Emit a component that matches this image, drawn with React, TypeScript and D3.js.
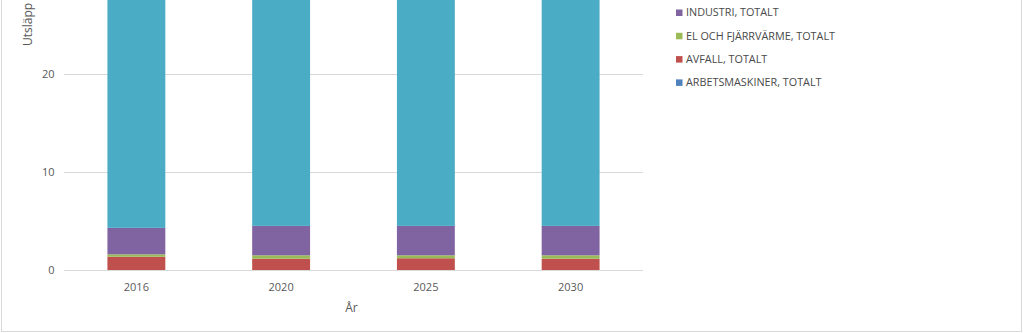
import React from "react";
import * as d3 from "d3";

const years = ["2016", "2020", "2025", "2030"];
const arbetsmaskiner = [0, 0, 0, 0];
const avfall = [1.35, 1.15, 1.2, 1.15];
const elFjarrvarme = [0.25, 0.35, 0.3, 0.35];
const industri = [2.7, 3.0, 3.0, 3.0];
const transporter = [28.0, 27.5, 27.0, 26.5];
const yTicks = [0, 10, 20];

const seriesNames = [
  "ARBETSMASKINER, TOTALT",
  "AVFALL, TOTALT",
  "EL OCH FJÄRRVÄRME, TOTALT",
  "INDUSTRI, TOTALT",
  "TRANSPORTER, TOTALT",
];
const seriesColors = ["#4F81BD", "#C0504D", "#9BBB59", "#8064A2", "#4BACC6"];

export default function App() {
  const W = 1023;
  const H = 333;
  const plotLeft = 64;
  const plotRight = 643;
  const y0 = 270;
  const pxPerUnit = 9.8;

  const data = years.map((yr, i) => ({
    year: yr,
    s0: arbetsmaskiner[i],
    s1: avfall[i],
    s2: elFjarrvarme[i],
    s3: industri[i],
    s4: transporter[i],
  }));
  const keys = ["s0", "s1", "s2", "s3", "s4"];
  const stacked = d3.stack<any>().keys(keys)(data);

  const x = d3.scaleBand<string>().domain(years).range([plotLeft, plotRight]).paddingInner(0.6).paddingOuter(0.3);
  const y = d3.scaleLinear().domain([0, 40]).range([y0, y0 - 40 * pxPerUnit]);

  const font = "'Open Sans', 'Liberation Sans', Arial, sans-serif";
  const textColor = "#595959";

  const legendX = 676;
  const legendY0 = 12.5;
  const legendStep = 23.3;
  // legend order reversed (top of stack first); the top entry lies above the visible area
  const legendOrder = [4, 3, 2, 1, 0];

  return (
    <svg
      width={W}
      height={H}
      style={{ position: "absolute", left: 0, top: 0, display: "block", background: "#fff" }}
    >
      <rect x={1.5} y={-20} width={1020} height={351.5} fill="#fff" stroke="#d9d9d9" strokeWidth={1} />
      {yTicks.map((t) => (
        <g key={t}>
          <line x1={plotLeft} x2={plotRight} y1={Math.round(y(t)) + 0.5} y2={Math.round(y(t)) + 0.5} stroke="#d9d9d9" strokeWidth={1} />
          <text x={54.5} y={y(t)} dy="0.35em" textAnchor="end" fontFamily={font} fontSize={11} fill={textColor}>
            {t}
          </text>
        </g>
      ))}
      {stacked.map((layer, li) => (
        <g key={li} fill={seriesColors[li]}>
          {layer.map((d, i) => (
            <rect
              key={i}
              x={x(years[i])}
              width={x.bandwidth()}
              y={y(d[1])}
              height={Math.max(0, y(d[0]) - y(d[1]))}
            />
          ))}
        </g>
      ))}
      {years.map((yr) => (
        <text key={yr} x={(x(yr) as number) + x.bandwidth() / 2} y={290.5} textAnchor="middle" fontFamily={font} fontSize={11} fill={textColor}>
          {yr}
        </text>
      ))}
      <text x={(plotLeft + plotRight) / 2 - 2} y={312} textAnchor="middle" fontFamily={font} fontSize={12} fill={textColor}>
        År
      </text>
      <text
        transform={`translate(${32},${46}) rotate(-90)`}
        textAnchor="start"
        fontFamily={font}
        fontSize={12}
        fill={textColor}
      >
        Utsläpp
      </text>
      {legendOrder.map((si, k) => {
        const cy = legendY0 + (k - 1) * legendStep;
        if (cy < 0) return null;
        return (
          <g key={si}>
            <rect x={legendX} y={cy - 3} width={6.5} height={6.5} fill={seriesColors[si]} />
            <text x={legendX + 10} y={cy} dy="0.35em" fontFamily={font} fontSize={10.8} fill="#4a4a4a">
              {seriesNames[si]}
            </text>
          </g>
        );
      })}
    </svg>
  );
}
